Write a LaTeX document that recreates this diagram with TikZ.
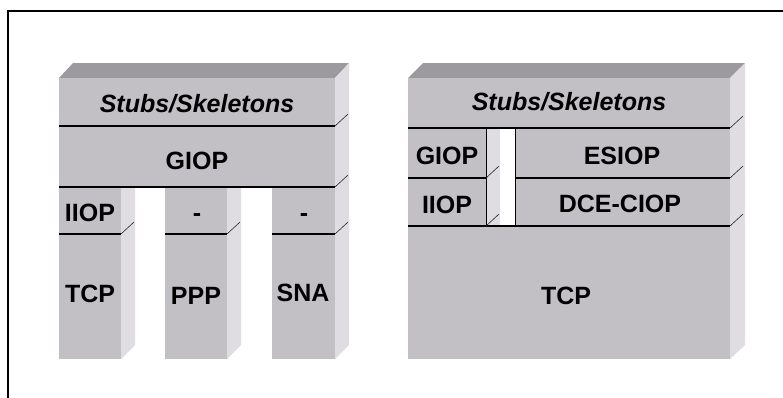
\documentclass[tikz,border=0pt]{standalone}
\usepackage{fontspec}
\setmainfont{Liberation Sans}
\usepackage{tikz}

\definecolor{frontgray}{RGB}{194,192,197}
\definecolor{topgray}{RGB}{156,154,158}
\definecolor{sidegray}{RGB}{223,221,225}

\begin{document}
\begin{tikzpicture}[x=1pt,y=-1pt,
  facefront/.style={fill=frontgray},
  facetop/.style={fill=topgray},
  faceside/.style={fill=sidegray},
  sepline/.style={black,line width=1.2pt},
  notchline/.style={black!85,line width=0.6pt},
  laytext/.style={font=\fontsize{25}{30}\selectfont\bfseries,inner sep=0pt,text height=18pt,text depth=0pt},
  laytextit/.style={laytext,font=\fontsize{25}{30}\selectfont\bfseries\itshape}]

\useasboundingbox (0,0) rectangle (783,397);
\fill[white] (0,0) rectangle (783,397);
\draw[line width=2pt] (8,11) rectangle (800,420);

% left stack: faces
\fill[facetop] (59,78) -- (73,63) -- (349,63) -- (335,78) -- cycle;
\fill[faceside] (335,78) -- (349,63) -- (349,345) -- (335,359) -- cycle;
\fill[facefront] (59,78) rectangle (335,187);
\fill[facefront] (59,187) rectangle (121,359);
\fill[faceside] (121,187) -- (135,187) -- (135,345) -- (121,359) -- cycle;
\fill[facefront] (165,187) rectangle (227,359);
\fill[faceside] (227,187) -- (241,187) -- (241,345) -- (227,359) -- cycle;
\fill[facefront] (272,187) rectangle (335,359);

% left stack: layer lines
\draw[sepline] (59,126) -- (335,126);
\draw[sepline] (59,187) -- (335,187);
\draw[sepline] (59,234) -- (121,234);
\draw[sepline] (165,234) -- (227,234);
\draw[sepline] (272,234) -- (335,234);
\draw[notchline] (335,126) -- ++(13,-12);
\draw[notchline] (335,187) -- ++(13,-12);
\draw[notchline] (121,234) -- ++(13,-12);
\draw[notchline] (227,234) -- ++(13,-12);
\draw[notchline] (335,234) -- ++(13,-12);

% right stack: faces
\fill[facetop] (408,78) -- (423,63) -- (745,63) -- (730,78) -- cycle;
\fill[faceside] (730,78) -- (745,63) -- (745,345) -- (730,359) -- cycle;
\fill[facefront] (408,78) rectangle (730,359);
\fill[faceside] (486,128) rectangle (500,226);
\fill[white] (500,128) rectangle (515,226);
\draw[black,line width=0.8pt] (486,128) rectangle (515,226);
\draw[black,line width=1.8pt] (500,128) -- (515,128);

% right stack: layer lines
\draw[sepline] (408,128) -- (730,128);
\draw[sepline] (408,178) -- (486,178);
\draw[sepline] (515,178) -- (730,178);
\draw[sepline] (408,226) -- (730,226);
\draw[notchline] (730,128) -- ++(13,-12);
\draw[notchline] (730,178) -- ++(13,-12);
\draw[notchline] (730,226) -- ++(13,-12);
\draw[notchline] (486,178) -- ++(13,-12);
\draw[notchline] (486,226) -- ++(13,-12);

% labels
\node[laytextit] (stubsL) at (197,103) {Stubs/Skeletons};
\node[laytext] (giopL) at (197,160) {GIOP};
\node[laytext] (iiopL) at (90,212) {IIOP};
\node[laytext] (dashP) at (197,212) {-};
\node[laytext] (dashS) at (304,212) {-};
\node[laytext] (tcpL) at (90,293) {TCP};
\node[laytext] (ppp) at (196,295) {PPP};
\node[laytext] (sna) at (303,292) {SNA};

\node[laytextit] (stubsR) at (569,101) {Stubs/Skeletons};
\node[laytext] (giopR) at (447,155) {GIOP};
\node[laytext] (esiop) at (622,155) {ESIOP};
\node[laytext] (iiopR) at (447,204) {IIOP};
\node[laytext] (dceciop) at (620,203) {DCE-CIOP};
\node[laytext] (tcpR) at (566,295) {TCP};

\end{tikzpicture}
\end{document}
